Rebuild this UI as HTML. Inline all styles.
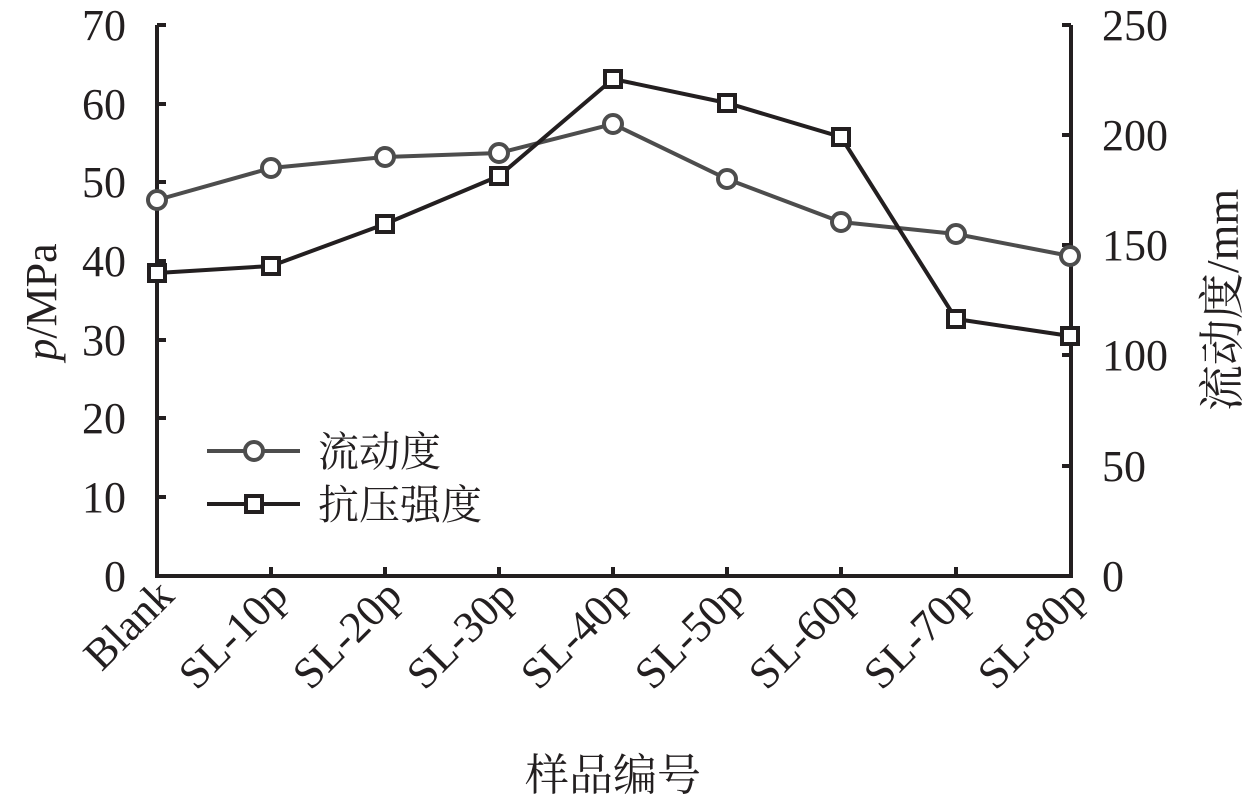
<!DOCTYPE html>
<html><head><meta charset="utf-8"><style>body{margin:0;background:#fff}svg{display:block}</style></head><body>
<svg width="1259" height="804" xmlns="http://www.w3.org/2000/svg" font-family="'Liberation Serif','Noto Serif CJK SC',serif" fill="#231f20">
<g stroke="#231f20" stroke-width="4" fill="none">
<path d="M157,25 V576 H1071 V25"/>
<path d="M157,25h9M157,104h9M157,182h9M157,261h9M157,340h9M157,418h9M157,497h9"/>
<path d="M1071,25h-9M1071,135h-9M1071,245h-9M1071,355h-9M1071,466h-9"/>
<path d="M271,576v-9M385,576v-9M499,576v-9M613,576v-9M727,576v-9M841,576v-9M956,576v-9"/>
</g>
<g font-size="44" text-anchor="end">
<text x="126" y="40">70</text><text x="126" y="119">60</text><text x="126" y="197">50</text><text x="126" y="276">40</text><text x="126" y="355">30</text><text x="126" y="433">20</text><text x="126" y="512">10</text><text x="126" y="591">0</text>
</g>
<g font-size="44" text-anchor="start">
<text x="1102" y="40">250</text><text x="1102" y="150">200</text><text x="1102" y="260">150</text><text x="1102" y="370">100</text><text x="1102" y="481">50</text><text x="1102" y="591">0</text>
</g>
<g font-size="44" text-anchor="end">
<text transform="translate(176,598) rotate(-45)">Blank</text>
<text transform="translate(290,598) rotate(-45)">SL-10p</text>
<text transform="translate(404,598) rotate(-45)">SL-20p</text>
<text transform="translate(518,598) rotate(-45)">SL-30p</text>
<text transform="translate(632,598) rotate(-45)">SL-40p</text>
<text transform="translate(746,598) rotate(-45)">SL-50p</text>
<text transform="translate(860,598) rotate(-45)">SL-60p</text>
<text transform="translate(975,598) rotate(-45)">SL-70p</text>
<text transform="translate(1089,598) rotate(-45)">SL-80p</text>
</g>
<text x="613" y="790" font-size="44" text-anchor="middle">样品编号</text>
<text transform="translate(56,302) rotate(-90)" font-size="44" text-anchor="middle"><tspan font-style="italic">p</tspan>/MPa</text>
<text transform="translate(1238,300) rotate(-90)" font-size="46" text-anchor="middle">流动度/mm</text>
<polyline fill="none" stroke="#4d4d4d" stroke-width="4" points="157,200 271,168 385,157 499,153 613,124 727,179 841,222 956,234 1070,256"/>
<g fill="#fff" stroke="#4d4d4d" stroke-width="4">
<circle cx="157" cy="200" r="9"/><circle cx="271" cy="168" r="9"/><circle cx="385" cy="157" r="9"/><circle cx="499" cy="153" r="9"/><circle cx="613" cy="124" r="9"/><circle cx="727" cy="179" r="9"/><circle cx="841" cy="222" r="9"/><circle cx="956" cy="234" r="9"/><circle cx="1070" cy="256" r="9"/>
</g>
<polyline fill="none" stroke="#231f20" stroke-width="4" points="157,273 271,266 385,224 499,176 613,79 727,103 841,137 956,319 1070,336"/>
<g fill="#fff" stroke="#231f20" stroke-width="4">
<rect x="149" y="265" width="16" height="16"/><rect x="263" y="258" width="16" height="16"/><rect x="377" y="216" width="16" height="16"/><rect x="491" y="168" width="16" height="16"/><rect x="605" y="71" width="16" height="16"/><rect x="719" y="95" width="16" height="16"/><rect x="833" y="129" width="16" height="16"/><rect x="948" y="311" width="16" height="16"/><rect x="1062" y="328" width="16" height="16"/>
</g>
<line x1="207" y1="451" x2="300" y2="451" stroke="#4d4d4d" stroke-width="4"/>
<circle cx="254" cy="451" r="9" fill="#fff" stroke="#4d4d4d" stroke-width="4"/>
<line x1="207" y1="504" x2="300" y2="504" stroke="#231f20" stroke-width="4"/>
<rect x="246" y="496" width="16" height="16" fill="#fff" stroke="#231f20" stroke-width="4"/>
<text x="318" y="466" font-size="41">流动度</text>
<text x="318" y="519" font-size="41">抗压强度</text>
</svg>
</body></html>
